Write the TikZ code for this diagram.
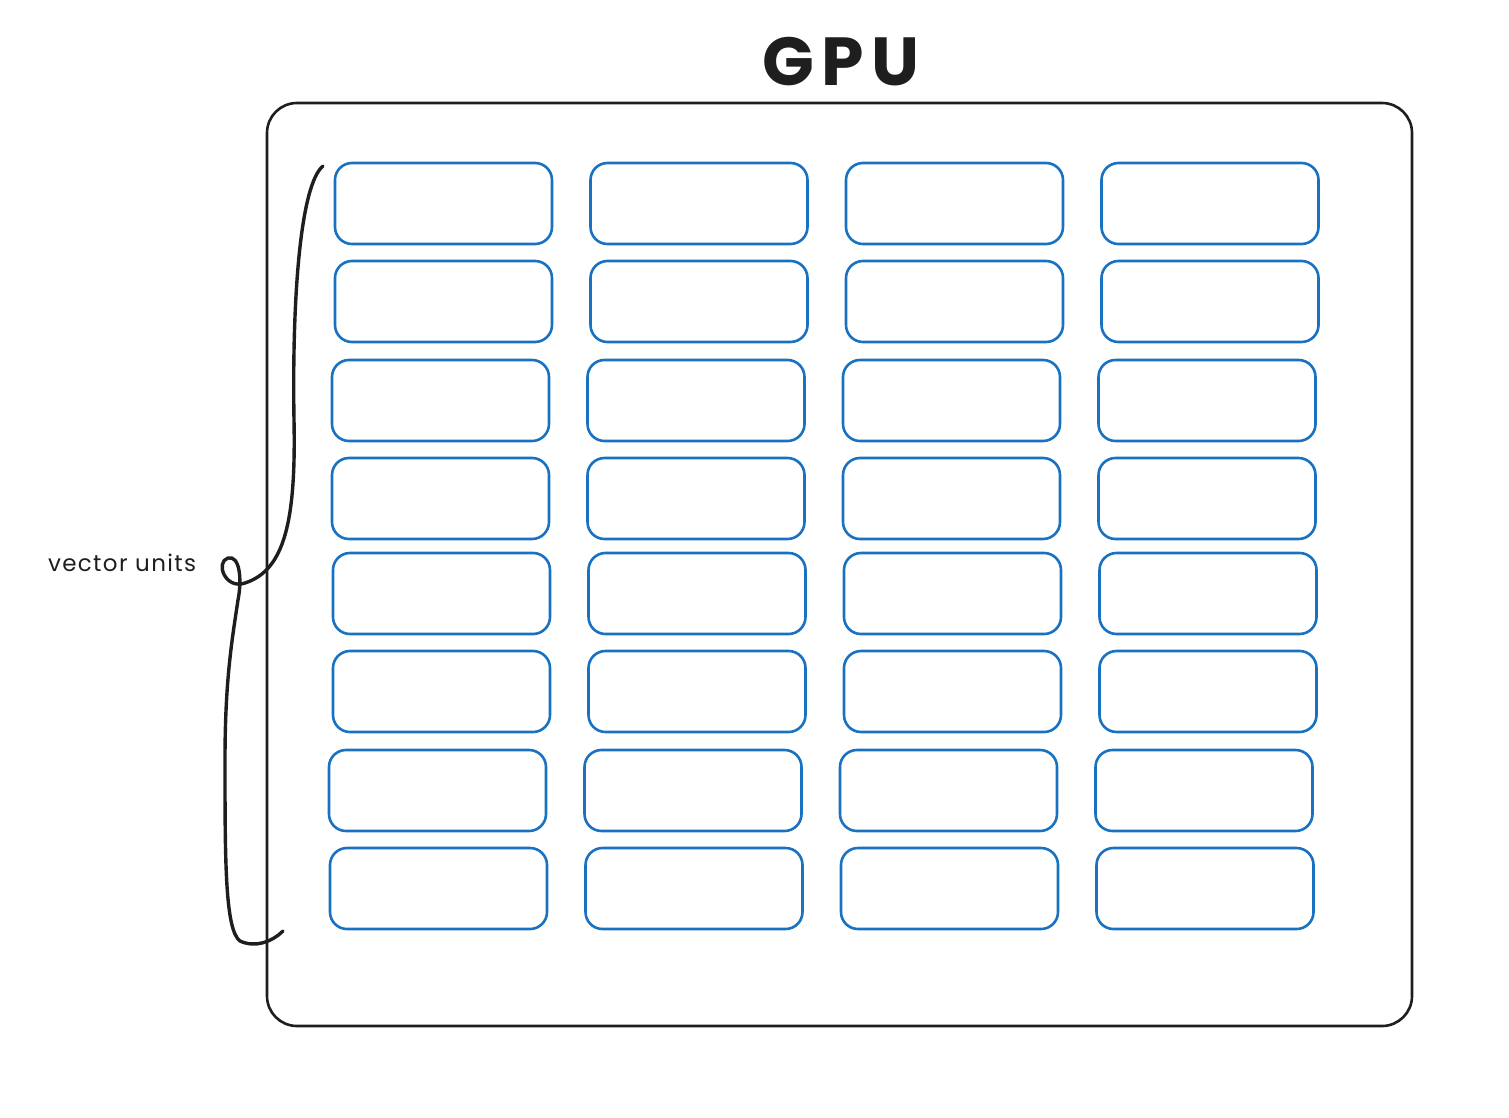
\documentclass[tikz,border=0pt]{standalone}
\usepackage{fontspec}
\setmainfont{Poppins}
\usepackage{tikz}
\usetikzlibrary{positioning}
\usepackage{xcolor}
\definecolor{gpuink}{RGB}{30,30,30}
\definecolor{vublue}{RGB}{25,113,194}
\tikzstyle{frame} = [rectangle, rounded corners=30pt, draw=gpuink, line width=2.6pt, minimum width=1145pt, minimum height=923pt]
\tikzstyle{vunit} = [rectangle, rounded corners=17pt, draw=vublue, line width=2.6pt, minimum width=217pt, minimum height=81pt]
\tikzstyle{brace} = [draw=gpuink, line width=3.4pt, line cap=round, line join=round]

\begin{document}
\begin{tikzpicture}[x=1pt, y=-1pt,
    every node/.style={inner sep=0pt, outer sep=0pt}]
\useasboundingbox (0,0) rectangle (1509,1118);

% GPU frame
\node (gpu) [frame] at (839.5,564.5) {};
\node (title) [font=\bfseries\addfontfeature{LetterSpace=11}\fontsize{68}{72}\selectfont, text=gpuink] at (841,62) {GPU};

% Vector units (row: top y, left x)
\foreach \r/\y/\x in {1/163/335, 2/261/335, 3/360/332, 4/458/332, 5/553/333, 6/651/333, 7/750/329, 8/848/330} {
  \foreach \c in {0,1,2,3} {
    \node (vu-\r-\c) [vunit] at ({\x+108.5+255.5*\c},{\y+40.5}) {};
  }
}

% Label and brace
\node (label) [font=\addfontfeature{LetterSpace=6}\fontsize{23}{26}\selectfont, text=gpuink, anchor=west] at (48,563) {vector units};
\coordinate (brace-top) at (323,166);
\coordinate (brace-bot) at (283,931);
\draw[brace] (brace-top) .. controls (300,185) and (292,300) .. (294,420)
  .. controls (296,520) and (285,570) .. (245,583)
  .. controls (225,590) and (215,562) .. (228,558)
  .. controls (240,555) and (242,580) .. (238,600)
  .. controls (232,640) and (225,680) .. (225,760)
  .. controls (225,860) and (225,930) .. (240,941)
  .. controls (255,948) and (272,942) .. (brace-bot);
\end{tikzpicture}
\end{document}
